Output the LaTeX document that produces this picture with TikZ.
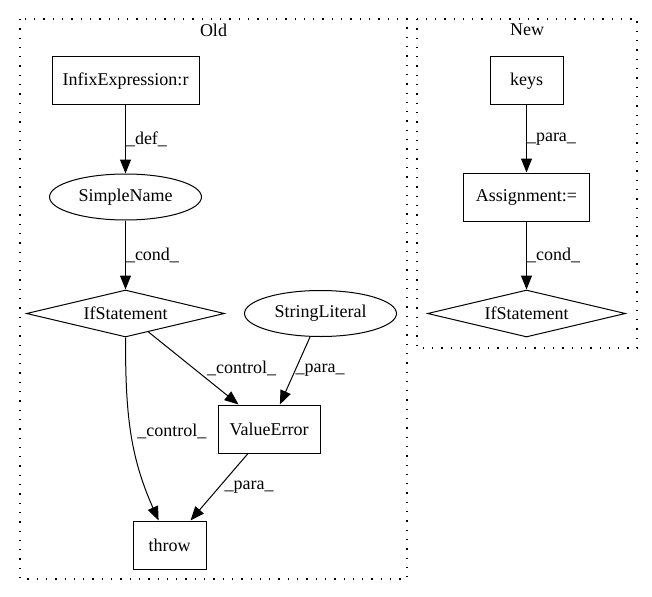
\documentclass[tikz,border=0pt]{standalone}
\usepackage{fontspec}
\setmainfont{Liberation Serif}
\usetikzlibrary{shapes,arrows.meta,positioning}
\tikzset{edge/.style={draw=black, line width=1pt, -{Triangle[length=14pt,width=11pt]}}}
\tikzset{box/.style={rectangle, draw, line width=1pt, minimum height=48pt, inner sep=0pt}}
\tikzset{oval/.style={ellipse, draw, line width=1pt, minimum width=152pt, minimum height=46pt, inner sep=0pt}}
\tikzset{decision/.style={diamond, draw, line width=1pt, aspect=4.2, minimum width=198pt, minimum height=47pt, inner sep=0pt}}
\tikzset{lbl/.style={draw=none, inner sep=0pt}}
\tikzset{cluster/.style={line width=1.2pt, dash pattern=on 1.3pt off 8pt}}

\begin{document}
\begin{tikzpicture}[x=1pt, y=-1pt, font=\fontsize{18}{21}\selectfont]
                \useasboundingbox (0,0) rectangle (652,596);

                % Old
                \draw[cluster] (20,19) rectangle (407,579);
                \node[lbl] (oldtitle) at (213.5,30) {Old};

                \node[box, minimum width=147pt] (infix) at (125.5,81) {InfixExpression:r};
                \node[oval] (simple) [below of = infix, node distance=116pt] {SimpleName};
                \node[decision] (ifold) [below of = simple, node distance=116.5pt] {IfStatement};
                \node[oval] (strlit) [right of = ifold, node distance=195pt] {StringLiteral};
                \node[box, minimum width=102pt] (valerr) at (269,429) {ValueError};
                \node[box, minimum width=73pt] (throw) at (169.5,545) {throw};

                \path[edge] (infix) edge node[lbl, right] {\_def\_} (simple)
                    (simple) edge node[lbl, right] {\_cond\_} (ifold)
                    (ifold) edge node[lbl, right=13pt] {\_control\_} (valerr)
                    (strlit) edge node[lbl, right] {\_para\_} (valerr)
                    (ifold) edge[out=-90, in=114] node[lbl, right=6pt] {\_control\_} (throw)
                    (valerr) edge node[lbl, right=5pt] {\_para\_} (throw);

                % New
                \draw[cluster] (417,19) rectangle (637,348);
                \node[lbl] (newtitle) at (527,30) {New};

                \node[box, minimum width=73pt] (keys) at (526.5,81) {keys};
                \node[box, minimum width=126pt] (assign) [below of = keys, node distance=116pt] {Assignment:=};
                \node[decision] (ifnew) [below of = assign, node distance=116.5pt] {IfStatement};

                \path[edge] (keys) edge node[lbl, right] {\_para\_} (assign)
                    (assign) edge node[lbl, right] {\_cond\_} (ifnew);
\end{tikzpicture}
\end{document}
